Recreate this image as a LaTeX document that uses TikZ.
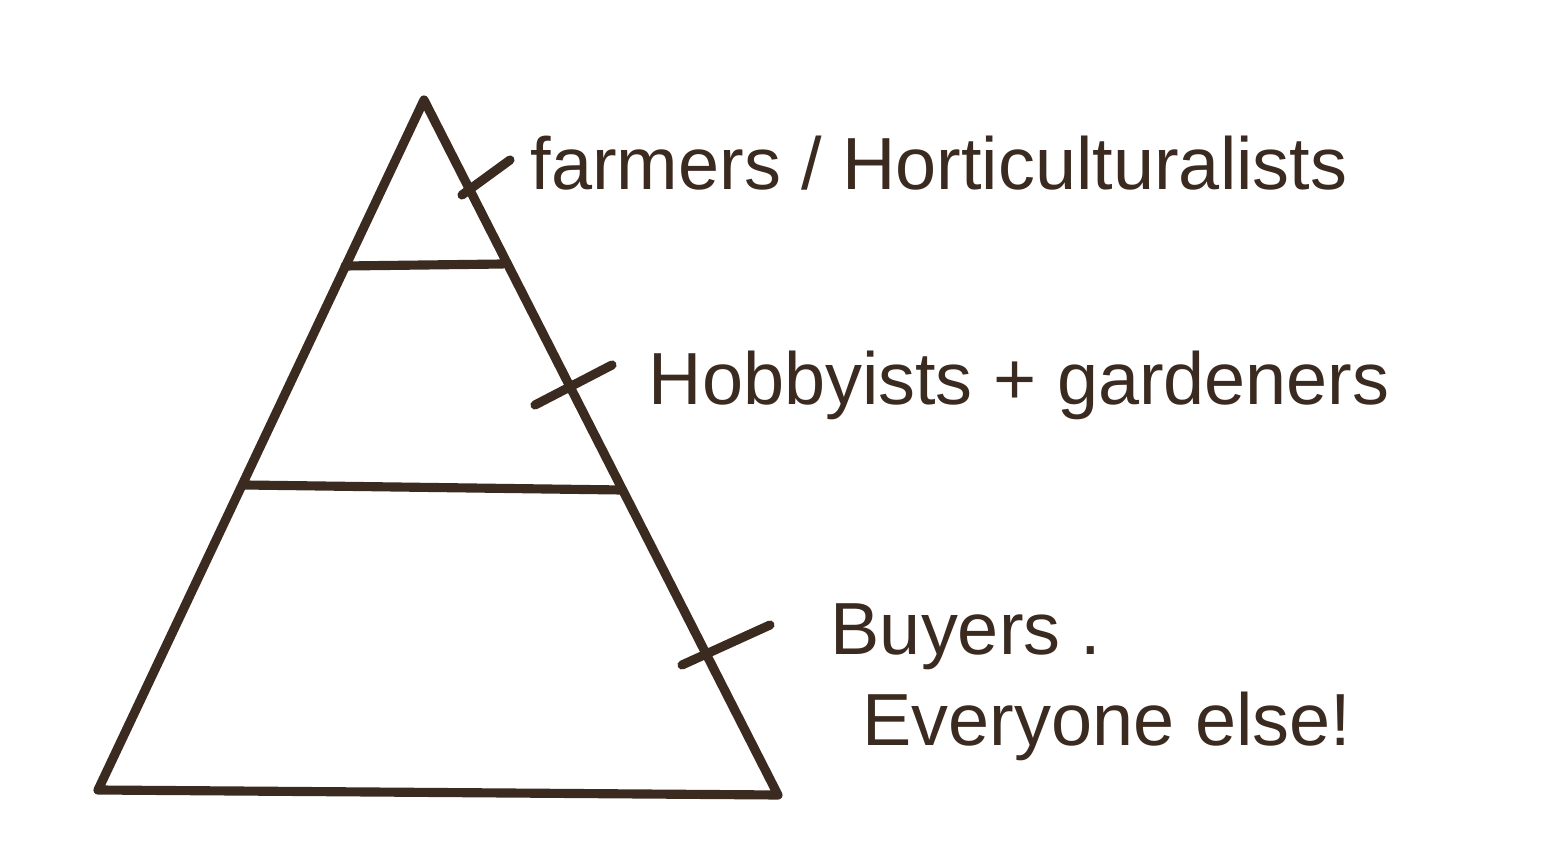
\documentclass[tikz,border=0pt]{standalone}
\usepackage{fontspec}
\setmainfont{Liberation Sans}
\usepackage{tikz}
\usetikzlibrary{positioning}
\definecolor{ink}{RGB}{58,42,32}
\tikzset{
	pen/.style={draw=ink,line width=2.6pt,line cap=round,line join=round},
	label/.style={anchor=base west,text=ink,inner sep=0pt,font=\fontsize{21}{25}\selectfont}
}

\begin{document}
\begin{tikzpicture}[x=0.01cm,y=-0.01cm]
	\useasboundingbox (0,0) rectangle (1553,867);
	% pyramid corners
	\coordinate (top) at (424,100);
	\coordinate (bl) at (98,790);
	\coordinate (br) at (778,795);
	\coordinate (l1a) at (345,266);
	\coordinate (l1b) at (503,264);
	\coordinate (l2a) at (245,485);
	\coordinate (l2b) at (622,490);
	\draw [pen] (top)--(bl)--(br)--cycle;
	\draw [pen] (l1a)--(l1b);
	\draw [pen] (l2a)--(l2b);
	% ticks
	\coordinate (t1a) at (462,195);
	\coordinate (t1b) at (510,160);
	\coordinate (t2a) at (535,405);
	\coordinate (t2b) at (612,365);
	\coordinate (t3a) at (682,665);
	\coordinate (t3b) at (770,625);
	\draw [pen] (t1a)--(t1b);
	\draw [pen] (t2a)--(t2b);
	\draw [pen] (t3a)--(t3b);
	% labels
	\node [label] (farm) at (530,190) {farmers / Horticulturalists};
	\node [label] (hobby) at (648,405) {Hobbyists + gardeners};
	\node [label] (buy) at (830,655) {Buyers .};
	\node [label] (else) at (862,745) {Everyone else!};
\end{tikzpicture}
\end{document}
